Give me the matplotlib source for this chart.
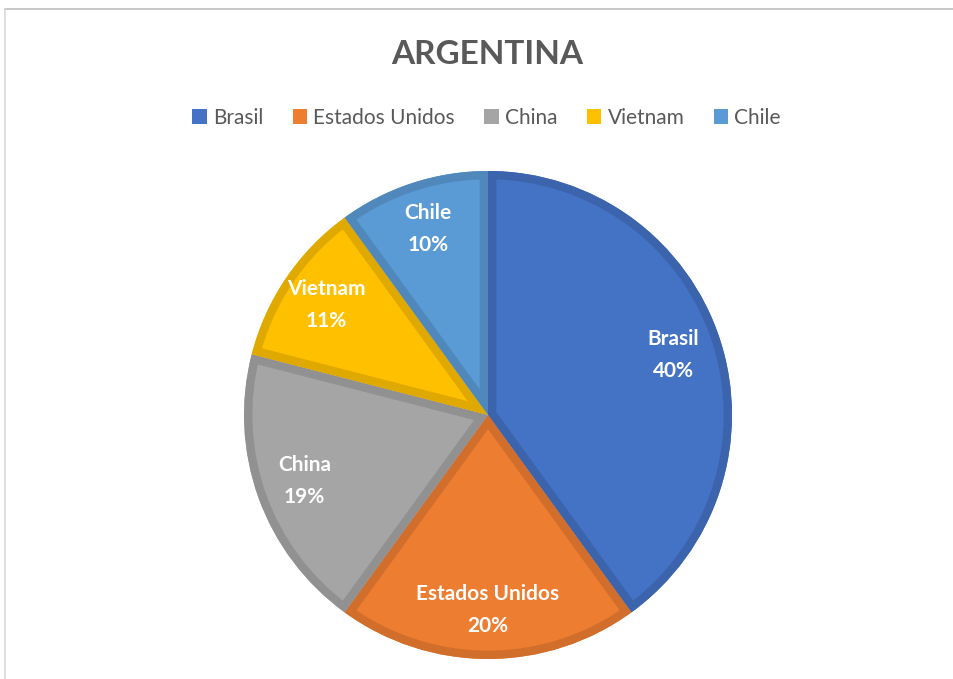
import matplotlib
matplotlib.use("Agg")
import matplotlib.pyplot as plt
from matplotlib.lines import Line2D
from matplotlib.patches import Patch, Wedge
import matplotlib.colors as mcolors

countries = ["Brasil", "Estados Unidos", "China", "Vietnam", "Chile"]
shares = [40, 20, 19, 11, 10]
colors = ["#4472C4", "#ED7D31", "#A5A5A5", "#FFC000", "#5B9BD5"]
title = "ARGENTINA"

plt.rcParams['font.family'] = ['Lato', 'DejaVu Sans']

def darker(c, f=0.88):
    r, g, b = mcolors.to_rgb(c)
    return (r * f, g * f, b * f)

fig = plt.figure(figsize=(9.54, 6.79), dpi=100)
fig.patch.set_facecolor("white")

ax = fig.add_axes([0.2558, 0.0295, 0.5115, 0.7187])
wedges, texts = ax.pie(shares, colors=colors, startangle=90, counterclock=False,
                       labels=[f"{c}\n{s}%" for c, s in zip(countries, shares)],
                       labeldistance=0.8,
                       wedgeprops=dict(linewidth=0))
for w, c in zip(wedges, colors):
    b = Wedge(w.center, w.r, w.theta1, w.theta2, facecolor="none",
              edgecolor=darker(c), linewidth=12, zorder=w.get_zorder() + 0.1)
    ax.add_patch(b)
    b.set_clip_path(w.get_path(), w.get_transform())
for t in texts:
    t.set_color("white")
    t.set_fontweight("bold")
    t.set_fontsize(15)
    t.set_ha("center")
    t.set_va("center")
    t.set_linespacing(1.75)
    t.set_zorder(5)
ax.set_xlim(-1.0, 1.0)
ax.set_ylim(-1.0, 1.0)
ax.set_aspect("equal")
ax.axis("off")

fig.text(0.511, 1 - 55 / 679, title, ha="center", va="center", fontsize=24,
         fontweight="bold", color="#595959")

handles = [Patch(facecolor=c, edgecolor="none") for c in colors]
fig.legend(handles, countries, loc="center", bbox_to_anchor=(0.51, 1 - 118 / 679),
           ncol=5, frameon=False, fontsize=15, handlelength=0.7, handleheight=0.7,
           handletextpad=0.3, columnspacing=1.4, labelcolor="#595959")

fig.add_artist(Line2D([5 / 954, 1], [1 - 8.5 / 679, 1 - 8.5 / 679], color="#BFBFBF", lw=1.2,
                      transform=fig.transFigure))
fig.add_artist(Line2D([5.5 / 954, 5.5 / 954], [0, 1 - 8.5 / 679], color="#D9D9D9", lw=1.2,
                      transform=fig.transFigure))

fig.savefig("out.png", dpi=100)
